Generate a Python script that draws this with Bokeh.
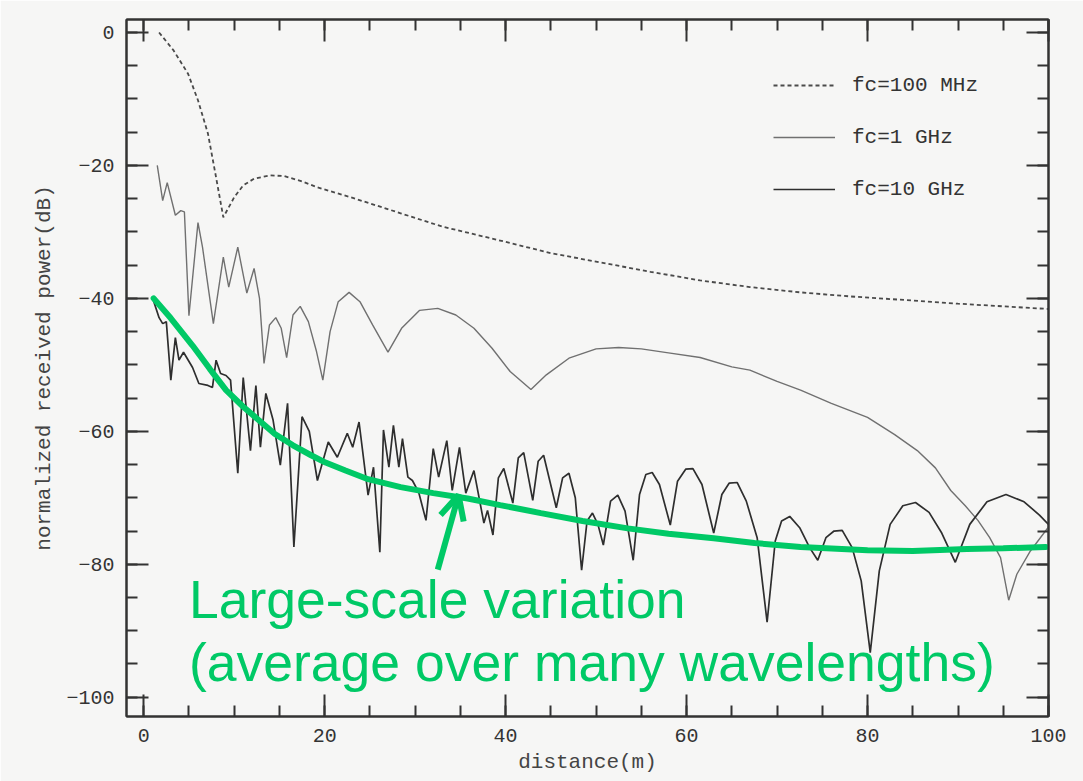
from bokeh.plotting import figure
from bokeh.models import (Range1d, LinearAxis, FixedTicker, Legend, LegendItem,
                          Label, Arrow, OpenHead, CustomJSTickFormatter)
from bokeh.embed import file_html
from bokeh.resources import INLINE

# ---------------- data ----------------
dist_100mhz = [1.7, 3.3, 4.9, 6.0, 7.1, 8.0, 8.8, 10.0, 11.0, 12.2, 14.0, 15.5, 17.5, 19.2,
               22.9, 28.4, 33.0, 39.4, 45.0, 50.5, 56.0, 61.5, 67.0, 72.6, 78.0, 83.6,
               90.0, 95.0, 100.0]
pow_100mhz = [0.0, -2.7, -6.2, -10.2, -15.2, -21.8, -27.8, -24.8, -23.0, -22.0, -21.5, -21.6,
              -22.4, -23.3, -24.8, -27.2, -29.2, -31.3, -33.2, -34.6, -36.0, -37.3, -38.3,
              -39.1, -39.7, -40.2, -40.8, -41.2, -41.6]

dist_1ghz = [1.5, 2.1, 2.6, 3.5, 4.1, 4.5, 5.0, 6.0, 6.5, 7.7, 8.8, 9.4, 10.4, 11.4, 12.2,
             12.8, 13.3, 13.9, 14.6, 15.2, 15.8, 16.5, 17.3, 18.2, 19.1, 19.8, 20.6, 21.5,
             22.7, 23.9, 25.3, 27.0, 28.5, 30.5, 32.5, 34.5, 36.5, 38.5, 40.5, 42.8, 44.5,
             47.0, 50.0, 52.5, 55.0, 58.0, 61.5, 65.0, 67.0, 70.0, 72.6, 76.0, 80.0, 83.0,
             85.5, 87.5, 89.2, 90.8, 92.2, 93.5, 94.7, 95.6, 96.5, 98.0, 100.0]
pow_1ghz = [-20.0, -25.3, -22.6, -27.5, -26.8, -27.0, -42.6, -28.6, -32.3, -43.8, -33.8, -38.3,
            -32.3, -39.2, -35.5, -40.0, -49.8, -44.0, -42.9, -44.5, -48.9, -42.5, -41.2,
            -43.5, -48.0, -52.3, -45.0, -40.5, -39.1, -40.5, -44.0, -48.1, -44.5, -41.8,
            -41.5, -42.5, -44.5, -47.5, -51.0, -53.7, -51.5, -49.0, -47.6, -47.4, -47.6,
            -48.2, -48.9, -50.3, -50.8, -52.5, -53.8, -55.8, -57.9, -60.5, -62.9, -65.5,
            -68.9, -71.2, -73.4, -76.0, -79.0, -85.4, -81.5, -78.0, -74.4]

dist_10ghz = [1.0, 1.7, 2.1, 2.5, 3.0, 3.5, 3.9, 4.4, 5.4, 6.1, 7.1, 7.6, 8.0, 8.5, 9.1, 9.6,
              10.4, 11.0, 11.8, 12.4, 12.9, 13.5, 14.3, 15.1, 15.9, 16.6, 17.5, 18.3, 19.2,
              20.4, 21.4, 22.5, 23.1, 23.8, 24.8, 25.4, 26.1, 26.5, 27.1, 27.6, 28.2, 28.6,
              29.2, 29.7, 30.4, 31.2, 32.0, 32.6, 33.5, 34.1, 34.9, 35.6, 36.5, 37.6, 38.0,
              38.6, 39.2, 39.8, 40.8, 41.4, 42.0, 43.0, 43.6, 44.2, 45.6, 46.3, 47.0, 47.7,
              48.4, 49.0, 49.6, 50.2, 50.8, 51.6, 52.4, 53.2, 54.1, 54.8, 55.5, 56.2, 57.0,
              58.2, 59.0, 59.9, 60.7, 61.7, 63.0, 63.9, 64.7, 65.6, 66.6, 67.8, 68.9, 69.8,
              70.5, 71.4, 72.5, 73.6, 74.5, 75.4, 76.3, 77.2, 78.3, 79.3, 80.3, 81.3, 82.5,
              83.9, 85.3, 86.8, 88.2, 89.7, 91.3, 93.2, 95.3, 97.3, 99.0, 100.0]
pow_10ghz = [-40.0, -42.9, -43.8, -43.5, -52.3, -45.9, -49.3, -48.1, -50.4, -52.8, -53.1, -53.4,
             -49.3, -51.3, -51.6, -52.3, -66.3, -51.9, -62.9, -53.1, -62.4, -54.3, -58.3,
             -65.1, -55.8, -77.4, -57.8, -60.0, -67.4, -61.6, -63.9, -60.3, -62.4, -58.6,
             -69.6, -65.4, -78.2, -59.8, -65.4, -59.1, -65.4, -61.1, -66.9, -67.4, -69.2,
             -73.4, -62.6, -66.9, -61.4, -68.9, -62.4, -69.3, -65.9, -73.8, -71.9, -75.6,
             -67.0, -65.6, -70.8, -64.0, -63.2, -70.4, -64.5, -63.6, -71.5, -67.0, -66.3,
             -70.0, -80.9, -73.5, -72.3, -74.0, -77.1, -70.5, -69.6, -72.0, -79.4, -69.5,
             -66.5, -66.2, -68.0, -74.1, -67.5, -65.7, -65.6, -68.0, -75.3, -69.5, -67.8,
             -67.7, -70.5, -76.0, -88.7, -76.5, -73.5, -72.8, -74.5, -77.5, -79.4, -76.0,
             -75.0, -74.9, -77.5, -82.5, -93.3, -81.0, -74.0, -71.2, -70.7, -72.2, -75.3,
             -79.7, -74.0, -70.6, -69.5, -70.6, -72.6, -74.0]

dist_avg = [1.1, 3.0, 5.4, 7.3, 9.1, 11.0, 12.7, 14.5, 16.5, 18.5, 20.1, 22.3, 24.8, 28.4,
            32.0, 35.8, 39.4, 43.9, 48.5, 53.5, 58.0, 63.0, 67.5, 72.6, 80.0, 85.0, 91.0,
            95.0, 99.7]
pow_avg = [-40.0, -43.0, -47.1, -50.6, -53.8, -56.3, -58.3, -60.4, -62.1, -63.6, -64.7, -65.9,
           -67.2, -68.4, -69.3, -70.1, -71.1, -72.3, -73.5, -74.6, -75.4, -76.1, -76.8,
           -77.4, -77.9, -78.0, -77.7, -77.6, -77.4]

x_major_ticks = [0, 20, 40, 60, 80, 100]
x_minor_ticks = list(range(0, 101, 5))
y_major_ticks = [-100, -80, -60, -40, -20, 0]
y_minor_ticks = list(range(-100, 1, 5))

legend_labels = ["fc=100 MHz", "fc=1 GHz", "fc=10 GHz"]
note_lines = ["Large-scale variation", "(average over many wavelengths)"]

# ---------------- styles ----------------
BG = "#f6f6f5"
INK = "#333333"
GREEN = "#00C966"
MONO = "Liberation Mono"

p = figure(width=1083, height=781, output_backend="svg", toolbar_location=None,
           x_range=Range1d(-1.9, 100), y_range=Range1d(-102.9, 1.95),
           x_axis_type=None, y_axis_type=None,
           min_border_left=126, min_border_right=35, min_border_top=19, min_border_bottom=65,
           background_fill_color=BG, border_fill_color=BG,
           outline_line_color=INK, outline_line_width=2)


def style_axis(ax, major, minor, show_labels):
    ax.ticker = FixedTicker(ticks=major, minor_ticks=minor)
    ax.major_tick_in = 22
    ax.major_tick_out = 0
    ax.minor_tick_in = 11
    ax.minor_tick_out = 0
    for attr in ("axis_line", "major_tick_line", "minor_tick_line"):
        setattr(ax, attr + "_color", INK)
        setattr(ax, attr + "_width", 2)
    if show_labels:
        ax.major_label_text_font = MONO
        ax.major_label_text_font_size = "20px"
        ax.major_label_text_color = INK
        ax.major_label_standoff = 12
        ax.axis_label_text_font = MONO
        ax.axis_label_text_font_size = "21px"
        ax.axis_label_text_font_style = "normal"
        ax.axis_label_text_color = "#444444"
    else:
        ax.formatter = CustomJSTickFormatter(code="return ''")
        ax.major_label_standoff = 0
        ax.major_label_text_font_size = "1px"


xb = LinearAxis(axis_label="distance(m)")
style_axis(xb, x_major_ticks, x_minor_ticks, True)
xb.axis_label_standoff = 6
yl = LinearAxis(axis_label="normalized received power(dB)")
style_axis(yl, y_major_ticks, y_minor_ticks, True)
yl.axis_label_standoff = 7
xt = LinearAxis()
style_axis(xt, x_major_ticks, x_minor_ticks, False)
yr = LinearAxis()
style_axis(yr, y_major_ticks, y_minor_ticks, False)
p.add_layout(xb, "below")
p.add_layout(yl, "left")
p.add_layout(xt, "above")
p.add_layout(yr, "right")

r100 = p.line(dist_100mhz, pow_100mhz, line_color="#4a4a4a", line_width=1.8, line_dash="4 3")
r1 = p.line(dist_1ghz, pow_1ghz, line_color="#707070", line_width=1.4)
r10 = p.line(dist_10ghz, pow_10ghz, line_color="#2e2e2e", line_width=1.7)

p.line(dist_avg, pow_avg, line_color=GREEN, line_width=6, line_cap="round")

p.add_layout(Arrow(end=OpenHead(size=24, line_width=6, line_color=GREEN),
                   x_start=32.5, y_start=-80.8, x_end=34.8, y_end=-69.6,
                   line_width=6, line_color=GREEN))

for txt, yb in zip(note_lines, [-85.3, -94.8]):
    p.add_layout(Label(x=5.0, y=yb, text=txt, text_font="Liberation Sans",
                       text_font_size="53.5px", text_color=GREEN, text_baseline="alphabetic"))

legend = Legend(items=[LegendItem(label=l, renderers=[r]) for l, r in zip(legend_labels, [r100, r1, r10])],
                location=(647, 514), glyph_width=62, glyph_height=26, label_height=26,
                label_standoff=17, spacing=26, padding=0, margin=0,
                label_text_font=MONO, label_text_font_size="21px", label_text_color=INK,
                background_fill_alpha=0, border_line_alpha=0)
p.add_layout(legend)

open("out.html", "w").write(file_html(p, INLINE))
